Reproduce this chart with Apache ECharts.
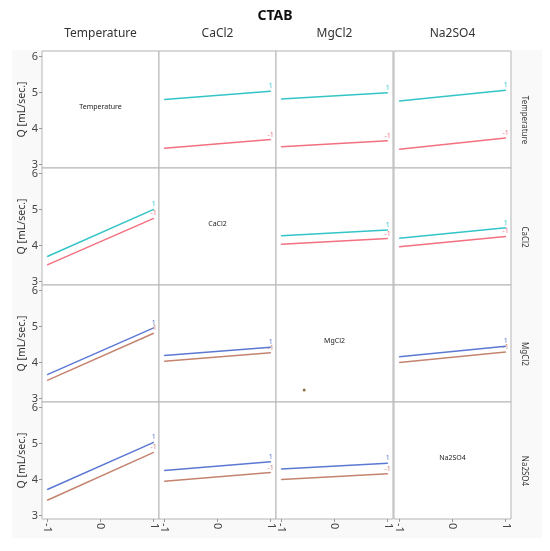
<!DOCTYPE html>
<html>
<head>
<meta charset="utf-8">
<script src="https://cdn.jsdelivr.net/npm/echarts@6/dist/echarts.min.js"></script>
<style>
html,body{margin:0;padding:0;background:#fff;}
#chart{width:550px;height:551px;}
</style>
</head>
<body>
<div id="chart"></div>
<script>
// ---- data ----
const factors = ['Temperature', 'CaCl2', 'MgCl2', 'Na2SO4'];
const xLevels = [-1, 1];
const xTicks = [-1, 0, 1];
const yTicks = [3, 4, 5, 6];
const traceLevels = ['1', '-1'];
// [value at x=-1, value at x=1]; row = trace factor, index = x factor
const tempHi   = [null, [4.80, 5.03], [4.82, 4.99], [4.76, 5.06]];
const tempLo   = [null, [3.45, 3.69], [3.49, 3.66], [3.42, 3.73]];
const cacl2Hi  = [[3.69, 5.00], null, [4.27, 4.43], [4.20, 4.49]];
const cacl2Lo  = [[3.46, 4.75], null, [4.03, 4.19], [3.96, 4.25]];
const mgcl2Hi  = [[3.66, 4.96], [4.19, 4.42], null, [4.16, 4.45]];
const mgcl2Lo  = [[3.50, 4.81], [4.03, 4.27], null, [4.00, 4.29]];
const na2so4Hi = [[3.72, 5.03], [4.25, 4.49], [4.29, 4.45], null];
const na2so4Lo = [[3.42, 4.75], [3.95, 4.19], [4.00, 4.16], null];
const dotPoint = [-0.57, 3.23];

const hiRows = [tempHi, cacl2Hi, mgcl2Hi, na2so4Hi];
const loRows = [tempLo, cacl2Lo, mgcl2Lo, na2so4Lo];

// ---- layout ----
const colLeft = [42, 159, 276, 394];
const rowTop = [51, 168, 285, 402];
const cellW = 117, cellH = 117;
const hiColors = ['#33c4c8', '#33c4c8', '#5b78d2', '#5b78d2'];
const loColors = ['#f2707f', '#f2707f', '#c4836f', '#c4836f'];
const FONT = 'Noto Sans, sans-serif';

const grids = [], xAxes = [], yAxes = [], series = [];
let gi = 0;
for (let r = 0; r < 4; r++) {
  for (let c = 0; c < 4; c++) {
    grids.push({
      left: colLeft[c], top: rowTop[r], width: cellW, height: cellH,
      show: true, borderColor: '#b5b5b5', borderWidth: 1, backgroundColor: '#ffffff'
    });
    xAxes.push({
      gridIndex: gi, type: 'value', min: -1.1, max: 1.1,
      splitLine: { show: false },
      axisLine: { show: false, onZero: false },
      axisTick: { show: r === 3, length: 3, customValues: xTicks, lineStyle: { color: '#999' } },
      axisLabel: { show: r === 3, customValues: xTicks, rotate: -90, fontSize: 11, color: '#444', margin: 4, fontFamily: FONT }
    });
    yAxes.push({
      gridIndex: gi, type: 'value', min: 2.9, max: 6.15,
      splitLine: { show: false },
      axisLine: { show: false, onZero: false },
      axisTick: { show: c === 0, length: 3, customValues: yTicks, lineStyle: { color: '#999' } },
      axisLabel: { show: c === 0, customValues: yTicks, fontSize: 11, color: '#444', margin: 4, fontFamily: FONT },
      name: c === 0 ? 'Q [mL/sec.]' : '',
      nameLocation: 'middle', nameGap: 14,
      nameTextStyle: { fontSize: 10.5, color: '#333', fontFamily: FONT }
    });
    if (r !== c) {
      const pairs = [[hiRows[r][c], hiColors[r], traceLevels[0]], [loRows[r][c], loColors[r], traceLevels[1]]];
      pairs.forEach(([vals, color, lvl]) => {
        series.push({
          type: 'line', xAxisIndex: gi, yAxisIndex: gi,
          symbol: 'circle', symbolSize: 1, showSymbol: true, silent: true, animation: false,
          lineStyle: { color: color, width: 1.5 },
          itemStyle: { color: color },
          labelLayout: { hideOverlap: false },
          data: [
            [xLevels[0], vals[0]],
            { value: [xLevels[1], vals[1]], label: { show: true, formatter: lvl, position: 'top', distance: 1, offset: [-2, 0], fontSize: 7, color: color, fontFamily: FONT } }
          ]
        });
      });
    }
    gi++;
  }
}
// stray dot in MgCl2 diagonal cell
series.push({
  type: 'scatter', xAxisIndex: 10, yAxisIndex: 10, symbolSize: 3, silent: true, animation: false,
  itemStyle: { color: '#6b5418' }, data: [dotPoint]
});

const graphics = [
  { type: 'rect', z: -10, shape: { x: 12, y: 50, width: 530, height: 488 }, style: { fill: '#f9f9f9' }, silent: true }
];
for (let i = 0; i < 4; i++) {
  graphics.push({
    type: 'text', z: 10,
    style: { text: factors[i], x: colLeft[i] + cellW / 2, y: 34, fontSize: 12, fill: '#333', fontFamily: FONT, align: 'center', verticalAlign: 'middle' }
  });
  graphics.push({
    type: 'text', z: 10,
    style: { text: factors[i], x: colLeft[i] + cellW / 2, y: rowTop[i] + cellH / 2 - 2.5, fontSize: 7, fill: '#222', fontFamily: FONT, align: 'center', verticalAlign: 'middle' }
  });
  graphics.push({
    type: 'text', z: 10, x: 524, y: rowTop[i] + cellH / 2 + 10.5, rotation: -Math.PI / 2,
    style: { text: factors[i], x: 0, y: 0, fontSize: 8, fill: '#333', fontFamily: FONT, align: 'center', verticalAlign: 'middle' }
  });
}

const chart = echarts.init(document.getElementById('chart'), null, { renderer: 'canvas' });
chart.setOption({
  backgroundColor: '#ffffff',
  animation: false,
  title: { text: 'CTAB', left: 'center', top: 4, textStyle: { fontSize: 14, fontWeight: 'bold', color: '#111', fontFamily: FONT } },
  grid: grids, xAxis: xAxes, yAxis: yAxes, series: series, graphic: graphics
});
</script>
</body>
</html>
